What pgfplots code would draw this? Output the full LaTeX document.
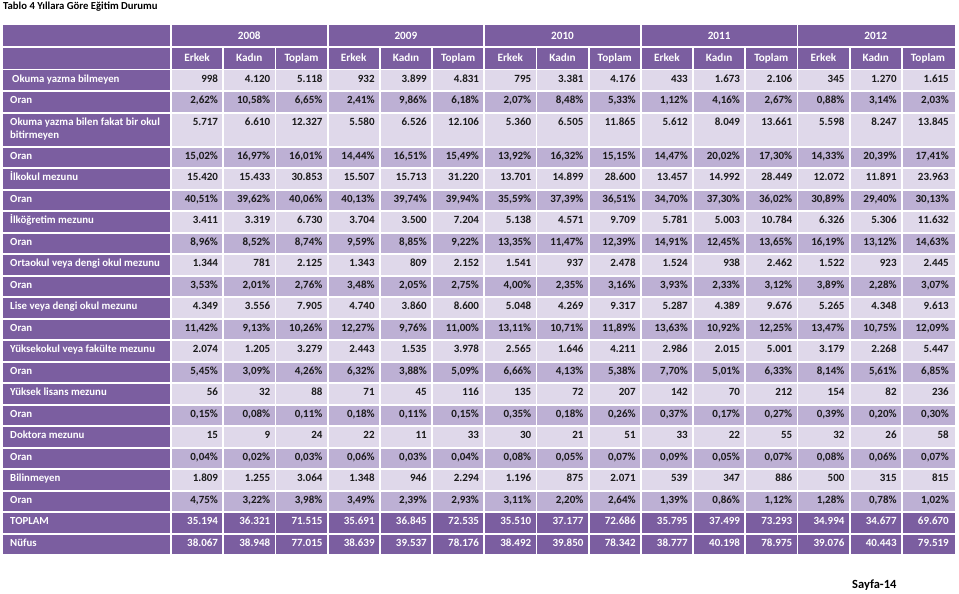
\documentclass[border=0pt]{standalone}
\usepackage{pgfplots}
\usepackage{pgfplotstable}
\pgfplotsset{compat=1.18}
\usepackage{fontspec}
\setmainfont{Carlito}
\definecolor{hdr}{HTML}{7B5EA0}
\definecolor{rowN}{HTML}{DFD8EA}
\definecolor{rowP}{HTML}{BDB0D4}
\definecolor{ink}{HTML}{1A1A1A}
\protected\def\pct{\%}
\protected\def\lblf{\fontsize{10.8}{12}\selectfont\bfseries}
\protected\def\hdrf{\fontsize{11.2}{12}\selectfont\bfseries}
\protected\def\valf{\fontsize{11}{12}\selectfont}
\protected\def\valb{\fontsize{11}{12}\selectfont\bfseries}

% type: 0 = count row, 1 = percent row (Oran), 2 = two-line count row, 3 = total row
\pgfplotstableread[col sep=semicolon]{
type;label;c1;c2;c3;c4;c5;c6;c7;c8;c9;c10;c11;c12;c13;c14;c15
0;Okuma yazma bilmeyen;998;4.120;5.118;932;3.899;4.831;795;3.381;4.176;433;1.673;2.106;345;1.270;1.615
1;Oran;2,62;10,58;6,65;2,41;9,86;6,18;2,07;8,48;5,33;1,12;4,16;2,67;0,88;3,14;2,03
2;Okuma yazma bilen fakat bir okul;5.717;6.610;12.327;5.580;6.526;12.106;5.360;6.505;11.865;5.612;8.049;13.661;5.598;8.247;13.845
1;Oran;15,02;16,97;16,01;14,44;16,51;15,49;13,92;16,32;15,15;14,47;20,02;17,30;14,33;20,39;17,41
0;İlkokul mezunu;15.420;15.433;30.853;15.507;15.713;31.220;13.701;14.899;28.600;13.457;14.992;28.449;12.072;11.891;23.963
1;Oran;40,51;39,62;40,06;40,13;39,74;39,94;35,59;37,39;36,51;34,70;37,30;36,02;30,89;29,40;30,13
0;İlköğretim mezunu;3.411;3.319;6.730;3.704;3.500;7.204;5.138;4.571;9.709;5.781;5.003;10.784;6.326;5.306;11.632
1;Oran;8,96;8,52;8,74;9,59;8,85;9,22;13,35;11,47;12,39;14,91;12,45;13,65;16,19;13,12;14,63
0;Ortaokul veya dengi okul mezunu;1.344;781;2.125;1.343;809;2.152;1.541;937;2.478;1.524;938;2.462;1.522;923;2.445
1;Oran;3,53;2,01;2,76;3,48;2,05;2,75;4,00;2,35;3,16;3,93;2,33;3,12;3,89;2,28;3,07
0;Lise veya dengi okul mezunu;4.349;3.556;7.905;4.740;3.860;8.600;5.048;4.269;9.317;5.287;4.389;9.676;5.265;4.348;9.613
1;Oran;11,42;9,13;10,26;12,27;9,76;11,00;13,11;10,71;11,89;13,63;10,92;12,25;13,47;10,75;12,09
0;Yüksekokul veya fakülte mezunu;2.074;1.205;3.279;2.443;1.535;3.978;2.565;1.646;4.211;2.986;2.015;5.001;3.179;2.268;5.447
1;Oran;5,45;3,09;4,26;6,32;3,88;5,09;6,66;4,13;5,38;7,70;5,01;6,33;8,14;5,61;6,85
0;Yüksek lisans mezunu;56;32;88;71;45;116;135;72;207;142;70;212;154;82;236
1;Oran;0,15;0,08;0,11;0,18;0,11;0,15;0,35;0,18;0,26;0,37;0,17;0,27;0,39;0,20;0,30
0;Doktora mezunu;15;9;24;22;11;33;30;21;51;33;22;55;32;26;58
1;Oran;0,04;0,02;0,03;0,06;0,03;0,04;0,08;0,05;0,07;0,09;0,05;0,07;0,08;0,06;0,07
0;Bilinmeyen;1.809;1.255;3.064;1.348;946;2.294;1.196;875;2.071;539;347;886;500;315;815
1;Oran;4,75;3,22;3,98;3,49;2,39;2,93;3,11;2,20;2,64;1,39;0,86;1,12;1,28;0,78;1,02
3;TOPLAM;35.194;36.321;71.515;35.691;36.845;72.535;35.510;37.177;72.686;35.795;37.499;73.293;34.994;34.677;69.670
3;Nüfus;38.067;38.948;77.015;38.639;39.537;78.176;38.492;39.850;78.342;38.777;40.198;78.975;39.076;40.443;79.519
}\edu

\begin{document}
\begin{tikzpicture}
\begin{axis}[width=959pt,height=594pt,scale only axis,hide axis,
  xmin=0,xmax=959,ymin=0,ymax=594,y dir=reverse,clip=false]
\addplot[draw=none,forget plot] coordinates {(0,0) (959,594)};
% header bands
\addplot[fill=hdr,draw=none,forget plot] coordinates {(3,25) (170,25) (170,46.5) (3,46.5)};
\addplot[fill=hdr,draw=none,forget plot] coordinates {(3,48.5) (170,48.5) (170,69) (3,69)};
\addplot[fill=hdr,draw=none,forget plot] coordinates {(172,25) (955,25) (955,46.5) (172,46.5)};
\addplot[fill=hdr,draw=none,forget plot] coordinates {(172,48.5) (955,48.5) (955,69) (172,69)};
% title and footer
\node[anchor=base west,inner sep=0pt,font=\fontsize{10.7}{12}\selectfont\bfseries] at (axis cs:3,10) {Tablo 4 Yıllara Göre Eğitim Durumu};
\node[anchor=base west,inner sep=0pt,font=\fontsize{12.5}{14}\selectfont\bfseries] at (axis cs:852,588) {Sayfa-14};
% header texts
\pgfplotsforeachungrouped \k in {0,...,4}{%
  \pgfmathsetmacro\xc{172+52.2*(3*\k+1.5)-1}%
  \pgfmathtruncatemacro\yr{2008+\k}%
  \edef\tmp{\noexpand\node[anchor=base,inner sep=0pt,text=white,font=\noexpand\hdrf] at (axis cs:\xc,39.5) {\yr};}\tmp
  \pgfmathsetmacro\xa{172+52.2*(3*\k+0.5)-1}%
  \pgfmathsetmacro\xb{172+52.2*(3*\k+1.5)-1}%
  \pgfmathsetmacro\xd{172+52.2*(3*\k+2.5)-1}%
  \edef\tmp{\noexpand\node[anchor=base,inner sep=0pt,text=white,font=\noexpand\hdrf] at (axis cs:\xa,62) {Erkek};
    \noexpand\node[anchor=base,inner sep=0pt,text=white,font=\noexpand\hdrf] at (axis cs:\xb,62) {Kadın};
    \noexpand\node[anchor=base,inner sep=0pt,text=white,font=\noexpand\hdrf] at (axis cs:\xd,62) {Toplam};}\tmp
}
% data rows
\def\ytop{70.5}
\pgfplotsforeachungrouped \r in {0,...,21}{%
  \pgfplotstablegetelem{\r}{type}\of\edu \let\rtype\pgfplotsretval
  \pgfplotstablegetelem{\r}{label}\of\edu \let\rlabel\pgfplotsretval
  \ifnum\rtype=2 \def\rh{34}\else\def\rh{21.5}\fi
  \pgfmathsetmacro\ybot{\ytop+\rh-1.6}%
  \pgfmathsetmacro\ybase{\ytop+11.6}%
  \ifcase\rtype \def\bg{rowN}\or\def\bg{rowP}\or\def\bg{rowN}\or\def\bg{hdr}\fi
  \ifnum\r=0 \def\lx{12}\else\def\lx{10}\fi
  \edef\tmp{\noexpand\addplot[fill=hdr,draw=none,forget plot] coordinates {(3,\ytop) (170,\ytop) (170,\ybot) (3,\ybot)};
    \noexpand\addplot[fill=\bg,draw=none,forget plot] coordinates {(172,\ytop) (955,\ytop) (955,\ybot) (172,\ybot)};
    \noexpand\node[anchor=base west,inner sep=0pt,text=white,font=\noexpand\lblf] at (axis cs:\lx,\ybase) {\rlabel};}\tmp
  \ifnum\rtype=2
    \pgfmathsetmacro\ybaseb{\ybase+13.5}%
    \edef\tmp{\noexpand\node[anchor=base west,inner sep=0pt,text=white,font=\noexpand\lblf] at (axis cs:10,\ybaseb) {bitirmeyen};}\tmp
  \fi
  \pgfplotsforeachungrouped \c in {1,...,15}{%
    \edef\getcmd{\noexpand\pgfplotstablegetelem{\r}{c\c}}\getcmd\of\edu
    \let\v\pgfplotsretval
    \pgfmathsetmacro\xr{172+52.2*\c-6}%
    \ifnum\rtype=1 \edef\vtext{\v\pct}\else\edef\vtext{\v}\fi
    \ifnum\rtype=3 \def\tcol{white}\def\tf{\valb}\else
      \def\tcol{ink}\ifnum\c=15 \def\tf{\valb}\else\def\tf{\valf}\fi\fi
    \edef\tmp{\noexpand\node[anchor=base east,inner sep=0pt,text=\tcol,font=\noexpand\tf] at (axis cs:\xr,\ybase) {\vtext};}\tmp
  }%
  \pgfmathsetmacro\ytop{\ytop+\rh}%
}
% white vertical separators
\pgfplotsforeachungrouped \k in {1,...,14}{%
  \pgfmathsetmacro\xs{172+52.2*\k-1}%
  \pgfmathtruncatemacro\md{mod(\k,3)}%
  \ifnum\md=0 \def\ys{25}\else\def\ys{47}\fi
  \edef\tmp{\noexpand\addplot[white,line width=1.8pt,forget plot] coordinates {(\xs,\ys) (\xs,556)};}\tmp
}
\end{axis}
\end{tikzpicture}
\end{document}
